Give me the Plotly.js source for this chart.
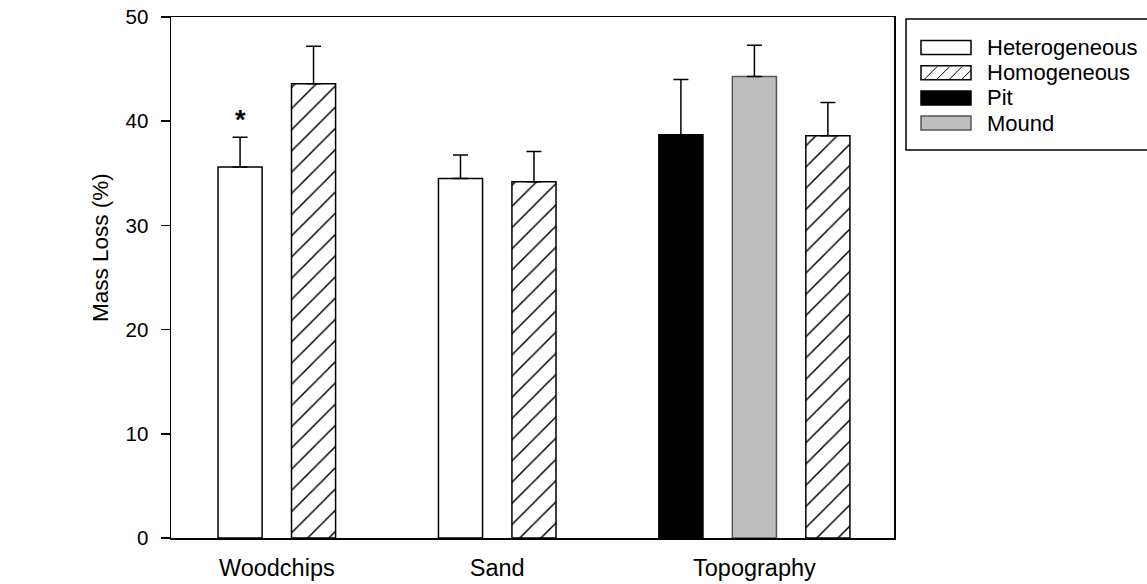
<!DOCTYPE html>
<html>
<head>
<meta charset="utf-8">
<script src="https://cdn.plot.ly/plotly-3.0.1.min.js"></script>
<style>html,body{margin:0;padding:0;background:#fff;}#chart{width:1147px;height:584px;}</style>
</head>
<body>
<div id="chart"></div>
<script>
// ---- data ----
const categories = ['Woodchips', 'Sand', 'Topography'];
const seriesNames = ['Heterogeneous', 'Homogeneous', 'Pit', 'Mound'];
const heterogeneous = [35.6, 34.5, null];
const heterogeneousErr = [2.85, 2.25, null];
const homogeneous = [43.6, 34.2, 38.6];
const homogeneousErr = [3.6, 2.9, 3.2];
const pit = [null, null, 38.7];
const pitErr = [null, null, 5.3];
const mound = [null, null, 44.3];
const moundErr = [null, null, 3.0];
const significance = ['*', '', ''];   // marker above Heterogeneous bar
const yTicks = [0, 10, 20, 30, 40, 50];

// ---- styling ----
const FONT = '"Liberation Sans", Arial, sans-serif';
const seriesData = {
  'Heterogeneous': {v: heterogeneous, e: heterogeneousErr},
  'Homogeneous': {v: homogeneous, e: homogeneousErr},
  'Pit': {v: pit, e: pitErr},
  'Mound': {v: mound, e: moundErr}
};
const styles = {
  'Heterogeneous': {color: '#ffffff', line: '#000000'},
  'Homogeneous': {color: '#ffffff', line: '#000000', pattern: true},
  'Pit': {color: '#000000', line: '#000000'},
  'Mound': {color: '#bebebe', line: '#555555'}
};
const drawOrder = ['Heterogeneous', 'Pit', 'Mound', 'Homogeneous'];

// slot positions: bars in each category side by side, one empty slot between categories
const pos = {};
seriesNames.forEach(s => pos[s] = categories.map(() => null));
const centers = [];
let slot = 0;
categories.forEach((c, i) => {
  const used = [];
  drawOrder.forEach(s => {
    if (seriesData[s].v[i] !== null) { pos[s][i] = slot; used.push(slot); slot += 1; }
  });
  centers.push(used.reduce((a, b) => a + b, 0) / used.length);
  slot += 1;
});

const traces = seriesNames.map(s => {
  const xs = [], ys = [], es = [], em = [];
  seriesData[s].v.forEach((v, i) => {
    if (v !== null) { xs.push(pos[s][i]); ys.push(v); es.push(seriesData[s].e[i]); em.push(0); }
  });
  const st = styles[s];
  const marker = {color: st.color, line: {color: st.line, width: 1.5}};
  if (st.pattern) marker.pattern = {shape: '/', fgcolor: '#000000', bgcolor: '#ffffff', size: 15, solidity: 0.1};
  return {
    type: 'bar', name: s, x: xs, y: ys, width: 0.6, marker: marker,
    error_y: {type: 'data', array: es, arrayminus: em, symmetric: false, color: '#000000', thickness: 1.5, width: 7.5},
    showlegend: false, hoverinfo: 'x+y'
  };
});

// plot area in pixels
const L = 171, R = 894, T = 17, B = 538, W = 1147, H = 584;
const px = x => (x - L) / (R - L);
const py = y => (B - y) / (B - T);

const shapes = [];
const annotations = [];

// significance markers
categories.forEach((c, i) => {
  if (significance[i]) {
    annotations.push({
      x: pos['Heterogeneous'][i], y: heterogeneous[i] + heterogeneousErr[i], xref: 'x', yref: 'y',
      text: '<b>' + significance[i] + '</b>', showarrow: false, yanchor: 'bottom', yshift: 0,
      font: {family: FONT, size: 27, color: '#000'}
    });
  }
});

// y-axis title
annotations.push({
  x: px(100), y: py(248), xref: 'paper', yref: 'paper', text: 'Mass Loss (%)', textangle: -90,
  showarrow: false, font: {family: FONT, size: 22.5, color: '#000'}, xanchor: 'center', yanchor: 'middle'
});

// legend box
shapes.push({type: 'rect', xref: 'paper', yref: 'paper', x0: px(906), x1: px(1160), y0: py(19), y1: py(150),
  line: {color: '#000', width: 1.5}, fillcolor: 'rgba(0,0,0,0)'});
const legendOrder = ['Heterogeneous', 'Homogeneous', 'Pit', 'Mound'];
legendOrder.forEach((s, k) => {
  const cy = 47.5 + k * 25.2;
  const st = styles[s];
  shapes.push({type: 'rect', xref: 'paper', yref: 'paper', x0: px(921), x1: px(971), y0: py(cy + 7), y1: py(cy - 7),
    line: {color: st.line, width: 1.5}, fillcolor: st.color});
  if (st.pattern) {
    for (let j = 0; j < 4; j++) {
      const xb = 921 + 3 + j * 12.5;
      shapes.push({type: 'line', xref: 'paper', yref: 'paper', x0: px(xb), y0: py(cy + 7), x1: px(Math.min(xb + 13, 971)), y1: py(cy + 7 - Math.min(13, 971 - xb)),
        line: {color: '#000', width: 1}});
    }
  }
  annotations.push({x: px(985), y: py(cy), xref: 'paper', yref: 'paper', text: s, showarrow: false,
    xanchor: 'left', yanchor: 'middle', font: {family: FONT, size: 22, color: '#000'}});
});

const layout = {
  width: W, height: H,
  margin: {l: L, r: W - R, t: T, b: H - B, pad: 0},
  paper_bgcolor: '#ffffff', plot_bgcolor: '#ffffff',
  barmode: 'overlay',
  font: {family: FONT, size: 20, color: '#000'},
  xaxis: {
    range: [-0.94, 8.9], tickvals: centers, ticktext: categories, ticks: '',
    showgrid: false, zeroline: false, showline: true, linecolor: '#000', linewidth: 1.5, mirror: true,
    tickfont: {family: FONT, size: 23.5, color: '#000'}, ticklabelstandoff: 8
  },
  yaxis: {
    range: [0, 50], tickvals: yTicks, ticks: 'outside', ticklen: 9, tickwidth: 1.5, tickcolor: '#000',
    showgrid: false, zeroline: false, showline: true, linecolor: '#000', linewidth: 1.5, mirror: true,
    tickfont: {family: FONT, size: 20.5, color: '#000'}, ticklabelstandoff: 8
  },
  shapes: shapes,
  annotations: annotations,
  showlegend: false
};

Plotly.newPlot('chart', traces, layout, {displayModeBar: false, staticPlot: true});
</script>
</body>
</html>
